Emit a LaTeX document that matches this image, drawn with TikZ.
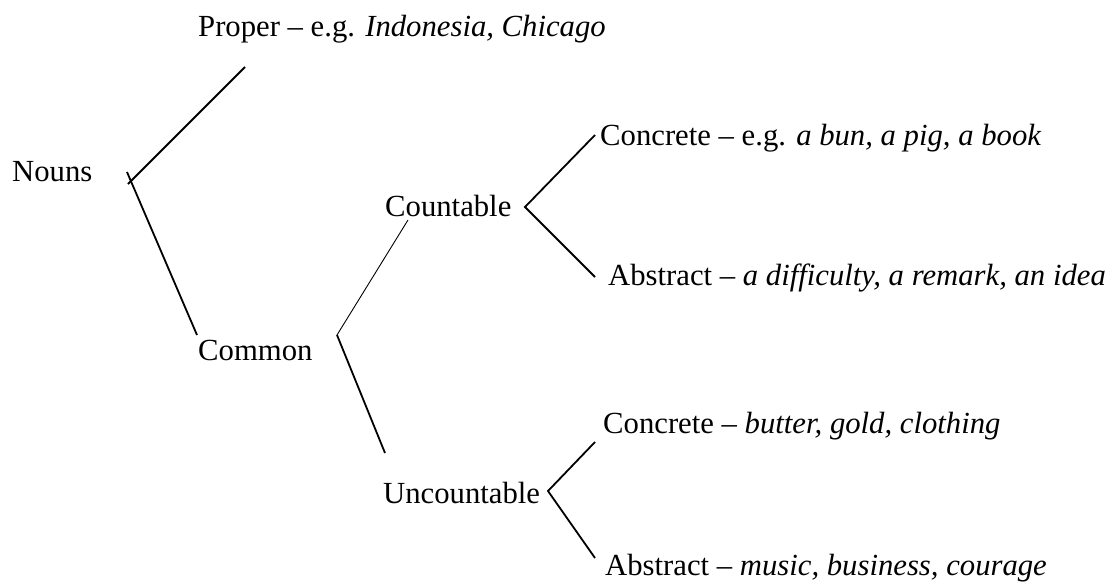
\documentclass[tikz,border=0pt]{standalone}
\usepackage{fontspec}
\setmainfont{Liberation Serif}
\tikzset{
  word/.style={anchor=base west, inner sep=0pt, font=\fontsize{30.7}{37}\selectfont},
  branch/.style={line width=1.8pt},
  twig/.style={line width=0.9pt}
}
\begin{document}
\begin{tikzpicture}[x=1pt,y=-1pt]
    \useasboundingbox (0,0) rectangle (1116,581);

    % Nouns and its two kinds
    \node[word] (nouns) at (12,181) {Nouns};
    \node[word] (proper) at (198,36) {Proper -- e.g. \textit{Indonesia, Chicago}};
    \node[word] (common) at (198,360) {Common};
    \coordinate (nounstick) at (127,172);
    \coordinate (nounsfork) at (128,184);
    \coordinate (properend) at (245,67);
    \coordinate (commonend) at (197,335);
    \draw[branch] (nounsfork) -- (properend);
    \draw[branch] (nounstick) -- (commonend);

    % Common: countable or uncountable
    \node[word] (countable) at (385,216) {Countable};
    \node[word] (uncountable) at (383,503) {Uncountable};
    \coordinate (commonfork) at (337,335);
    \coordinate (countend) at (408,220);
    \coordinate (uncountend) at (385,453);
    \draw[twig] (countend) -- (commonfork);
    \draw[branch] (commonfork) -- (uncountend);

    % Countable
    \node[word] (concreteA) at (600,145) {Concrete -- e.g. \textit{a bun, a pig, a book}};
    \node[word] (abstractA) at (608,285) {Abstract -- \textit{a difficulty, a remark, an idea}};
    \coordinate (countfork) at (525,207);
    \coordinate (concreteAend) at (595,135);
    \coordinate (abstractAend) at (595,277);
    \draw[branch] (concreteAend) -- (countfork) -- (abstractAend);

    % Uncountable
    \node[word] (concreteB) at (603,433) {Concrete -- \textit{butter, gold, clothing}};
    \node[word] (abstractB) at (605,575) {Abstract -- \textit{music, business, courage}};
    \coordinate (uncountfork) at (548,491);
    \coordinate (concreteBend) at (595,442);
    \coordinate (abstractBend) at (595,558);
    \draw[branch] (concreteBend) -- (uncountfork) -- (abstractBend);
\end{tikzpicture}
\end{document}
